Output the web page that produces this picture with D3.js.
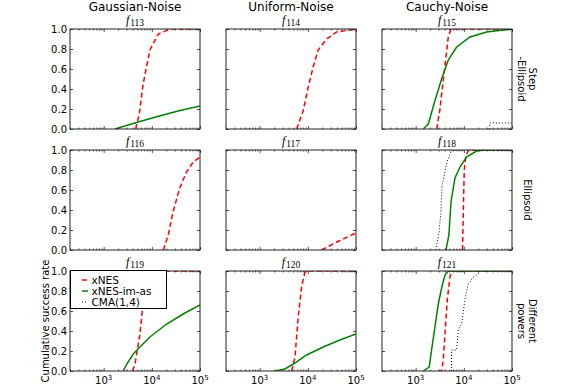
<!DOCTYPE html>
<html>
<head>
<meta charset="utf-8">
<script src="https://cdn.jsdelivr.net/npm/d3@7"></script>
<style>
  body { margin: 0; background: #fff; }
  svg { display: block; font-family: "DejaVu Sans", sans-serif; }
</style>
</head>
<body>
<div id="chart"></div>
<script>
// column / row headers
const colTitles = ["Gaussian-Noise", "Uniform-Noise", "Cauchy-Noise"];
const rowTitles = [["Step", "-Ellipsoid"], ["Ellipsoid"], ["Different", "powers"]];
const funcIds = [113, 114, 115, 116, 117, 118, 119, 120, 121];

const xTicks = [1e3, 1e4, 1e5];
const yTicks = [0, 0.2, 0.4, 0.6, 0.8, 1.0];
const legendLabels = ["xNES", "xNES-im-as", "CMA(1,4)"];

// [evaluations, proportion of runs] -- one entry per panel, f113..f121
const xnes = [
  [[4600, 0], [5500, 0.15], [6600, 0.45], [9100, 0.79], [13600, 0.95], [24000, 1.0], [100000, 1.0]],
  [[5860, 0], [8040, 0.185], [10200, 0.42], [12900, 0.62], [16400, 0.79], [24500, 0.9], [39600, 0.97], [100000, 1.0]],
  [[2730, 0], [3160, 0.18], [3740, 0.49], [4750, 0.92], [5410, 1.0], [100000, 1.0]],
  [[17300, 0], [21900, 0.15], [27500, 0.38], [38000, 0.62], [52500, 0.78], [72400, 0.88], [100000, 0.93]],
  [[19500, 0], [40000, 0.08], [100000, 0.17]],
  [[9400, 0], [9770, 0.4], [10200, 0.8], [11000, 0.94], [12600, 1.0], [100000, 1.0]],
  [[4000, 0], [4470, 0.07], [5660, 0.37], [6640, 0.7], [7800, 1.0], [100000, 1.0]],
  [[4610, 0], [5410, 0.14], [6310, 0.54], [7410, 0.84], [8710, 0.99], [9440, 1.0], [100000, 1.0]],
  [[2950, 0], [3470, 0], [3740, 0.11], [4060, 0.37], [4530, 0.71], [5150, 0.94], [5570, 1.0], [100000, 1.0]]
];
const xnesImAs = [
  [[1720, 0], [4800, 0.065], [12000, 0.12], [35000, 0.18], [100000, 0.23]],
  [],
  [[1440, 0], [1830, 0.05], [2520, 0.285], [3460, 0.5], [4750, 0.69], [7100, 0.82], [13400, 0.92], [29700, 0.97], [98000, 1.0], [100000, 1.0]],
  [],
  [],
  [[4260, 0], [4900, 0.15], [5410, 0.48], [6550, 0.72], [8320, 0.83], [11400, 0.93], [18400, 0.99], [27500, 1.0], [100000, 1.0]],
  [[2550, 0], [3020, 0.07], [4120, 0.17], [5660, 0.24], [9120, 0.34], [20300, 0.47], [44700, 0.57], [100000, 0.66]],
  [[2080, 0], [3350, 0.02], [5010, 0.07], [9440, 0.16], [20900, 0.24], [46300, 0.31], [100000, 0.37]],
  [[1440, 0], [1910, 0.04], [2140, 0.21], [2510, 0.44], [2950, 0.67], [3460, 0.83], [4060, 0.96], [4750, 1.0], [100000, 1.0]]
];
const cma = [
  [],
  [],
  [[33900, 0], [34700, 0.06], [100000, 0.06]],
  [],
  [],
  [[2600, 0], [2800, 0.08], [3050, 0.18], [3350, 0.38], [3550, 0.66], [3700, 0.68], [4150, 0.82], [4600, 0.9], [5200, 0.96], [5600, 1.0], [100000, 1.0]],
  [],
  [],
  [[5570, 0], [5570, 0.21], [7080, 0.21], [7660, 0.41], [9020, 0.47], [10500, 0.71], [12300, 0.87], [15700, 0.94], [20000, 0.97], [20000, 1.0], [100000, 1.0]]
];

const W = 568, H = 385;
const colX = [70, 226, 382], rowY = [29, 150, 271];
const pw = 130, ph = 100;

const svg = d3.select("#chart").append("svg")
  .attr("width", W).attr("height", H);

const x = d3.scaleLog().domain([200, 1e5]).range([0, pw]);
const y = d3.scaleLinear().domain([0, 1]).range([ph, 0]);

// minor ticks 2..9 per decade
const minorTicks = [];
[100, 1000, 10000].forEach(dec => {
  for (let k = 2; k <= 9; k++) {
    const v = dec * k;
    if (v >= 200 && v <= 1e5) minorTicks.push(v);
  }
});

const series = [
  { data: xnes, color: "#ff0000", width: 1.5, dash: "5,3" },
  { data: xnesImAs, color: "#008000", width: 1.5, dash: null },
  { data: cma, color: "#000000", width: 1, dash: "1,2" }
];

const line = d3.line().x(d => x(d[0])).y(d => y(d[1]));

funcIds.forEach((fid, i) => {
  const r = Math.floor(i / 3), c = i % 3;
  const g = svg.append("g").attr("transform", `translate(${colX[c]}, ${rowY[r]})`);

  g.append("clipPath").attr("id", "clip" + i)
    .append("rect").attr("width", pw).attr("height", ph);

  // curves
  series.forEach(s => {
    if (!s.data[i].length) return;
    g.append("path")
      .datum(s.data[i])
      .attr("clip-path", `url(#clip${i})`)
      .attr("d", line)
      .attr("fill", "none")
      .attr("stroke", s.color)
      .attr("stroke-width", s.width)
      .attr("stroke-dasharray", s.dash);
  });

  // inside ticks on all four sides
  const tickAxes = [
    { ax: d3.axisBottom(x).tickValues(xTicks).tickSize(-3), t: `translate(0,${ph})` },
    { ax: d3.axisBottom(x).tickValues(minorTicks).tickSize(-1.5), t: `translate(0,${ph})` },
    { ax: d3.axisTop(x).tickValues(xTicks).tickSize(-3), t: null },
    { ax: d3.axisTop(x).tickValues(minorTicks).tickSize(-1.5), t: null },
    { ax: d3.axisRight(y).tickValues(yTicks).tickSize(-3), t: `translate(${pw},0)` },
    { ax: d3.axisLeft(y).tickValues(yTicks).tickSize(-3), t: null }
  ];
  tickAxes.forEach(a => {
    const ag = g.append("g").attr("transform", a.t).call(a.ax);
    ag.select(".domain").remove();
    ag.selectAll("line").attr("stroke", "#222").attr("stroke-width", 0.8);
    ag.selectAll("text").remove();
  });
  if (c === 0) {
    const lg = g.append("g")
      .call(d3.axisLeft(y).tickValues(yTicks).tickSize(0).tickPadding(3).tickFormat(d3.format(".1f")));
    lg.select(".domain").remove();
    lg.selectAll("text").attr("font-family", "DejaVu Sans").attr("font-size", 10).attr("fill", "#000");
  }

  // x tick labels on bottom row
  if (r === 2) {
    xTicks.forEach(v => {
      const t = g.append("text")
        .attr("x", x(v)).attr("y", ph + 13)
        .attr("text-anchor", "middle")
        .attr("font-size", 10);
      t.append("tspan").text("10");
      t.append("tspan").attr("font-size", 7).attr("dy", -4).text(Math.round(Math.log10(v)));
    });
  }

  // frame
  g.append("rect")
    .attr("width", pw).attr("height", ph)
    .attr("fill", "none").attr("stroke", "#222").attr("stroke-width", 1);

  // f_nnn subtitle
  const st = g.append("text")
    .attr("x", pw / 2).attr("y", -5)
    .attr("text-anchor", "middle")
    .attr("font-family", "Liberation Serif, serif");
  st.append("tspan").attr("font-style", "italic").attr("font-size", 12).text("f");
  st.append("tspan").attr("font-size", 9.5).attr("dy", 2).attr("dx", 1).text(fid);
});

// column titles
colTitles.forEach((t, c) => {
  svg.append("text")
    .attr("x", colX[c] + pw / 2).attr("y", 11)
    .attr("text-anchor", "middle")
    .attr("font-size", 12)
    .text(t);
});

// row titles (right side, rotated)
rowTitles.forEach((lines, r) => {
  const cy = rowY[r] + ph / 2;
  const t = svg.append("text")
    .attr("transform", `translate(527, ${cy}) rotate(90)`)
    .attr("text-anchor", "middle")
    .attr("font-size", 10);
  const n = lines.length;
  lines.forEach((l, k) => {
    t.append("tspan")
      .attr("x", 0)
      .attr("y", (k - (n - 1) / 2) * 11 + 3.5)
      .text(l);
  });
});

// y label
svg.append("text")
  .attr("transform", `translate(48.5, ${rowY[2] + ph / 2}) rotate(-90)`)
  .attr("text-anchor", "middle")
  .attr("font-size", 10)
  .text("Cumulative success rate");

// legend in bottom-left panel
const leg = svg.append("g").attr("transform", `translate(${colX[0]}, ${rowY[2]})`);
leg.append("rect")
  .attr("x", 0.5).attr("y", -0.5).attr("width", 96).attr("height", 38)
  .attr("fill", "#fff").attr("stroke", "#000").attr("stroke-width", 1);
legendLabels.forEach((lab, k) => {
  const yy = 9 + k * 11;
  const s = series[k];
  leg.append("line")
    .attr("x1", 12).attr("x2", 18).attr("y1", yy).attr("y2", yy)
    .attr("stroke", s.color).attr("stroke-width", s.width)
    .attr("stroke-dasharray", s.dash);
  leg.append("text")
    .attr("x", 21.5).attr("y", yy + 3.5)
    .attr("font-size", 10.5)
    .text(lab);
});
</script>
</body>
</html>
